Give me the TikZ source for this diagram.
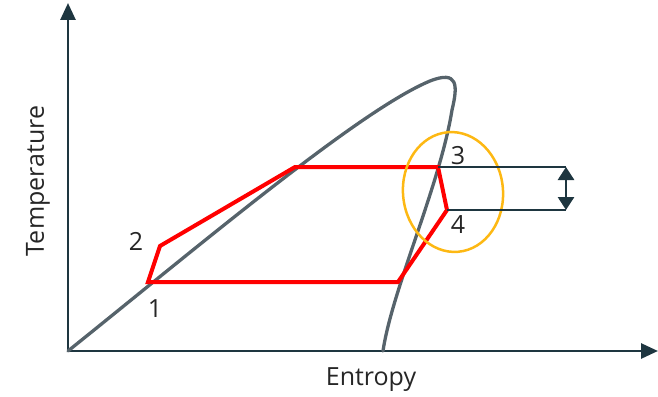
\documentclass[tikz,border=0pt]{standalone}
\usepackage{fontspec}
\setmainfont{Open Sans}
\usepackage{tikz}
\usetikzlibrary{arrows.meta,calc,positioning,shapes.geometric}
\definecolor{axisc}{HTML}{1E3640}
\definecolor{domec}{HTML}{56636B}
\definecolor{ringc}{HTML}{FDB813}

\begin{document}
\begin{tikzpicture}[x=1pt,y=-1pt,
  ax/.style={draw=axisc,line width=2.8pt,-{Triangle[length=17pt,width=15pt]}},
  dome/.style={draw=domec,line width=3.3pt,line cap=round},
  cyc/.style={draw=red,line width=4pt,line join=miter},
  lvl/.style={draw=axisc,line width=1.3pt},
  lbl/.style={font=\fontsize{25}{28}\selectfont,text=black!85,inner sep=0pt}]
  \useasboundingbox (0,0) rectangle (658,396);
  % axes
  \coordinate (o) at (68,351);
  \coordinate (ytop) at (68,3);
  \coordinate (xend) at (658,351);
  \draw[ax] (o) -- (ytop);
  \draw[ax] (o) -- (xend);
  \node[lbl,rotate=90] (tlab) at (38,181) {Temperature};
  \node[lbl] (slab) at (371,380) {Entropy};
  % saturation dome
  \coordinate (peak) at (448,79);
  \coordinate (foot) at (383,351);
  \draw[dome] (o) .. controls (200,245) and (360,110) .. (430,81)
    .. controls (458,70) and (458,85) .. (452,110)
    .. controls (440,185) and (392,290) .. (foot);
  % cycle
  \coordinate (p1) at (148,282);
  \coordinate (p2) at (160,246);
  \coordinate (pa) at (295,167);
  \coordinate (p3) at (438,167);
  \coordinate (p4) at (447,210);
  \coordinate (pb) at (398,282);
  \draw[cyc] (p1) -- (p2) -- (pa) -- (p3) -- (p4) -- (pb) -- cycle;
  \node[lbl] (n1) at (155,309) {1};
  \node[lbl] (n2) at (136,241) {2};
  \node[lbl] (n3) at (458,156) {3};
  \node[lbl] (n4) at (458,225) {4};
  % marked region
  \node[draw=ringc,line width=2.5pt,ellipse,minimum width=100pt,minimum height=120pt,rotate=5] (ring) at (453,192) {};
  % level difference
  \coordinate (r3) at (566,167);
  \coordinate (r4) at (566,210);
  \draw[lvl] (p3) -- (r3);
  \draw[lvl] (p4) -- (r4);
  \draw[axisc,line width=2.8pt,{Triangle[length=13pt,width=16pt]}-{Triangle[length=13pt,width=16pt]}] (r3) -- (r4);
\end{tikzpicture}
\end{document}
